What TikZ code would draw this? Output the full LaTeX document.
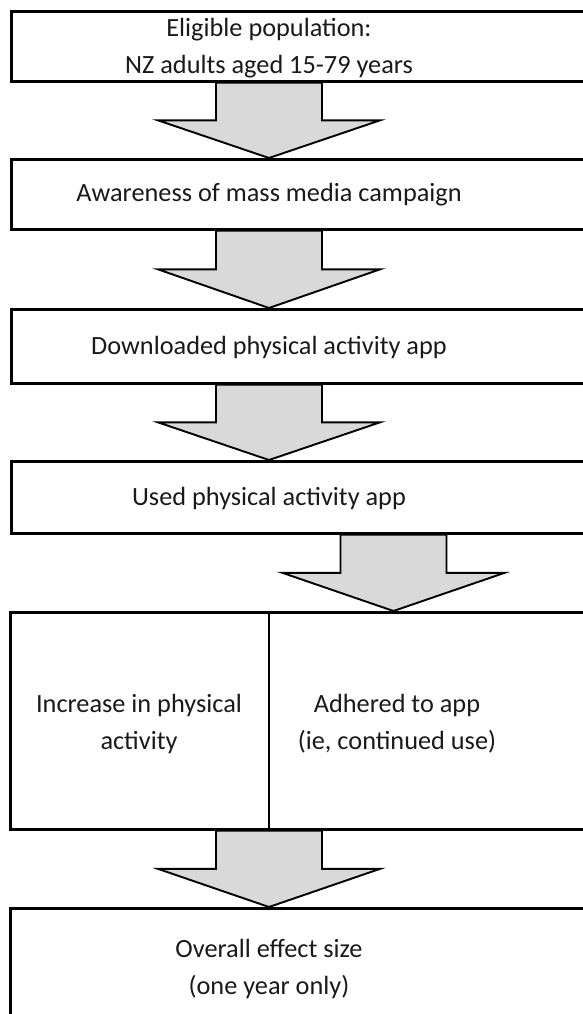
\documentclass[tikz,border=0pt]{standalone}
\usepackage{fontspec}
\setmainfont{Carlito}
\usetikzlibrary{calc,backgrounds}
\definecolor{arrowgray}{HTML}{D9D9D9}
\definecolor{txt}{HTML}{1A1A1A}
\newcommand{\blockarrow}[3]{%
  \draw[arrowbox] let \p1=(#2.south), \p2=(#3.north), \p3=($(\p1)!0.5!(\p2)$) in
    (#1-53pt,\y1) -- (#1+53pt,\y1) -- (#1+53pt,\y3) -- (#1+111pt,\y3) --
    (#1,\y2) -- (#1-111pt,\y3) -- (#1-53pt,\y3) -- cycle;}
\begin{document}
\begin{tikzpicture}[x=1pt,y=-1pt,
  box/.style={draw=black, line width=2.7pt, rectangle, anchor=north west, inner sep=0pt, minimum width=600pt},
  lbl/.style={align=center, font=\fontsize{26.3}{37}\selectfont, inner sep=0pt, text=txt},
  arrowbox/.style={draw=black, fill=arrowgray, line width=1.9pt, line join=miter}]
\useasboundingbox (0,0) rectangle (583,1014);
% boxes
\node[box, minimum height=70pt] (b1) at (10,10) {};
\node[box, minimum height=70pt] (b2) at (10,158) {};
\node[box, minimum height=74pt] (b3) at (10,308) {};
\node[box, minimum height=72pt] (b4) at (10,460) {};
\node[box, minimum height=217pt] (b5) at (9,611) {};
\node[box, minimum height=150pt] (b6) at (9,907) {};
\draw[line width=1.9pt] ($(b5.north west)+(260pt,0pt)$) coordinate (d1) -- ($(b5.south west)+(260pt,0pt)$) coordinate (d2);
% labels
\node[lbl] (t1) at (269,48.5) {Eligible population:\\NZ adults aged 15-79 years};
\node[lbl] (t2) at (269,195) {Awareness of mass media campaign};
\node[lbl] (t3) at (269,347) {Downloaded physical activity app};
\node[lbl] (t4) at (269,498) {Used physical activity app};
\node[lbl] (t5a) at (139,724) {Increase in physical\\activity};
\node[lbl] (t5b) at (397,724) {Adhered to app\\(ie, continued use)};
\node[lbl] (t6) at (269,969) {Overall effect size\\(one year only)};
% arrows
\begin{scope}[on background layer]
\fill[white] (0,0) rectangle (583,1014);
\blockarrow{269pt}{b1}{b2}
\blockarrow{269pt}{b2}{b3}
\blockarrow{269pt}{b3}{b4}
\blockarrow{393.5pt}{b4}{b5}
\blockarrow{269pt}{b5}{b6}
\end{scope}
\end{tikzpicture}
\end{document}
